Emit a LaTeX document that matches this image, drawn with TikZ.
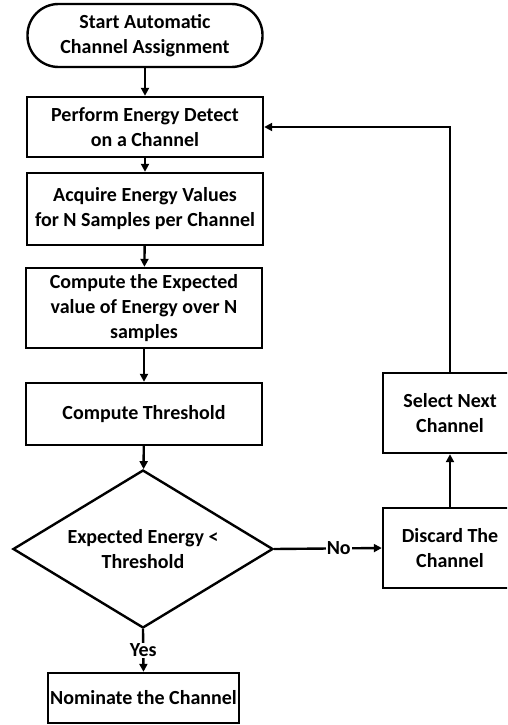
\documentclass[tikz,border=0pt]{standalone}
\usepackage{fontspec}
\setmainfont{Carlito}
\usetikzlibrary{shapes.geometric,arrows.meta}
\begin{document}
\begin{tikzpicture}[x=1pt,y=-1pt,
  every node/.style={font=\fontsize{20}{25}\selectfont\bfseries, align=center},
  stepbox/.style={draw, line width=2.4pt, rectangle, inner sep=0pt},
  termbox/.style={draw, line width=2.4pt, rectangle, rounded corners=31pt, inner sep=0pt},
  decision/.style={draw, line width=2.4pt, diamond, aspect=1.65, inner sep=0pt},
  flow/.style={line width=2.4pt, -{Triangle[length=8pt,width=8pt]}},
  tag/.style={fill=white, inner sep=1pt}]
\clip (0,0) rectangle (507,725);
\fill[white] (0,0) rectangle (507,725);

% main column
\node[termbox, minimum width=235pt, minimum height=63pt] (start) at (145,35.5)
  {Start Automatic\\Channel Assignment};
\node[stepbox, minimum width=236pt, minimum height=60pt] (detect) at (145,127)
  {Perform Energy Detect\\on a Channel};
\node[stepbox, minimum width=236pt, minimum height=72pt] (acquire) at (145,209)
  {Acquire Energy Values\\for N Samples per Channel};
\node[stepbox, minimum width=236pt, minimum height=80pt] (expect) at (144,308)
  {Compute the Expected\\value of Energy over N\\samples};
\node[stepbox, minimum width=236pt, minimum height=62pt] (thresh) at (144,414)
  {Compute Threshold};
\node[decision, minimum width=260pt, minimum height=158pt] (decide) at (143,549)
  {Expected Energy <\\Threshold};
\node[stepbox, minimum width=191pt, minimum height=50pt] (nominate) at (143.5,698)
  {Nominate the Channel};

% retry column
\node[stepbox, minimum width=134pt, minimum height=80pt] (discard) at (450,548)
  {Discard The\\Channel};
\node[stepbox, minimum width=134pt, minimum height=80pt] (select) at (450,413)
  {Select Next\\Channel};

% connectors
\draw[flow] (start) -- (detect);
\draw[flow] (detect) -- (acquire);
\draw[flow] (acquire) -- (expect);
\draw[flow] (expect) -- (thresh);
\draw[flow] (thresh) -- (decide);
\draw[flow] (decide.south) -- node[tag] {Yes} (nominate.north);
\draw[flow] (decide.east) -- node[tag, pos=0.6] {No} (discard.west);
\draw[flow] (discard) -- (select);
\draw[flow] (select.north) |- (detect.east);
\end{tikzpicture}
\end{document}
